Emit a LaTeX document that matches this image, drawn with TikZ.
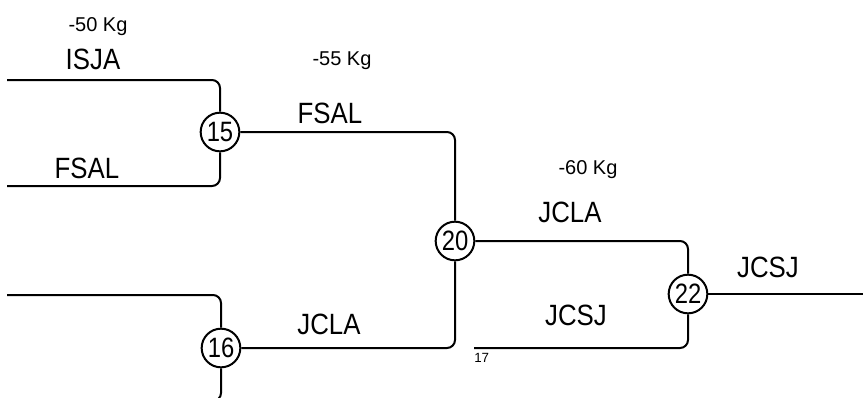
\documentclass[tikz,border=0pt]{standalone}
\usepackage{fontspec}
\setmainfont{Liberation Sans}
\newfontfamily\narrowsans[FakeStretch=0.88]{Liberation Sans}
\newfontfamily\seedsans[FakeStretch=0.85]{Liberation Sans}
\begin{document}
\begin{tikzpicture}[x=0.75pt,y=-0.75pt,
  seed/.style={circle,draw,line width=1.5pt,minimum size=29pt,inner sep=0pt,font=\seedsans\fontsize{21}{21}\selectfont},
  team/.style={anchor=base,inner sep=0pt,font=\narrowsans\fontsize{22}{22}\selectfont},
  weight/.style={anchor=base,inner sep=0pt,font=\fontsize{15}{15}\selectfont},
  tiny/.style={anchor=base west,inner sep=0pt,font=\fontsize{10}{10}\selectfont},
  wire/.style={line width=1.5pt,rounded corners=6pt}]
\useasboundingbox (0,0) rectangle (863,397);
\clip (0,0) rectangle (863,397);
% seeds
\node[seed] (c15) at (220,132) {15};
\node[seed] (c16) at (221,348) {16};
\node[seed] (c20) at (455,241) {20};
\node[seed] (c22) at (688,294) {22};
% free ends
\coordinate (a1) at (7,80);
\coordinate (a2) at (7,186);
\coordinate (b1) at (7,295);
\coordinate (b2) at (7,401);
\coordinate (e17) at (474,348);
\coordinate (out) at (863,294);
% wires
\draw[wire] (a1) -| (c15.north);
\draw[wire] (c15.south) |- (a2);
\draw[wire] (b1) -| (c16.north);
\draw[wire] (c16.south) |- (b2);
\draw[wire] (c15.east) -| (c20.north);
\draw[wire] (c16.east) -| (c20.south);
\draw[wire] (c20.east) -| (c22.north);
\draw[wire] (c22.south) |- (e17);
\draw[wire] (c22.east) -- (out);
% labels
\node[weight] (w50) at (98,31) {-50 Kg};
\node[team] (t1) at (93,69) {ISJA};
\node[team] (t2) at (87,178) {FSAL};
\node[weight] (w55) at (342,65) {-55 Kg};
\node[team] (t3) at (330,123) {FSAL};
\node[team] (t4) at (329,334) {JCLA};
\node[weight] (w60) at (588,174) {-60 Kg};
\node[team] (t5) at (570,222) {JCLA};
\node[team] (t6) at (576,325) {JCSJ};
\node[team] (t7) at (768,277) {JCSJ};
\node[tiny] (n17) at (474,362) {17};
\end{tikzpicture}
\end{document}
